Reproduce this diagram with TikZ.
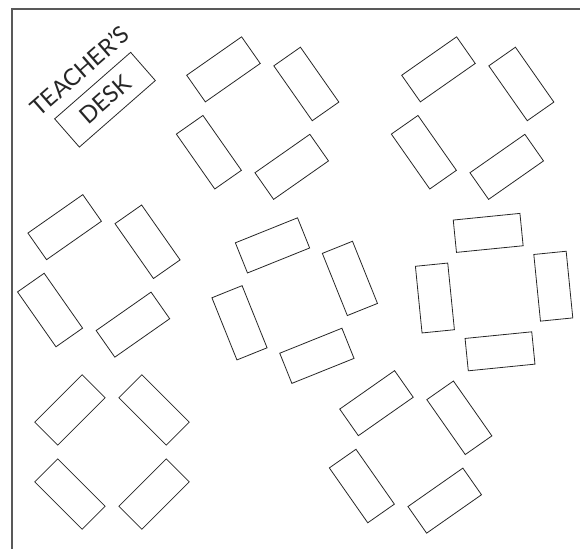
\documentclass[tikz,border=0pt]{standalone}
\usepackage{fontspec}
\setmainfont{Lato}
\usepackage{tikz}

\tikzset{
    desk/.style={draw=black!85, line width=0.8bp, minimum width=67bp,
        minimum height=32.5bp, inner sep=0pt},
    bigdesk/.style={draw=black!85, line width=0.8bp, minimum width=101bp,
        minimum height=37.5bp, inner sep=0pt},
    label/.style={font=\fontsize{23.5}{25}\selectfont, text=black!85, inner sep=0pt}
}

\begin{document}
\begin{tikzpicture}[x=1bp, y=1bp]
    \useasboundingbox (0, 0) rectangle (580, -549);
    \draw [line width=1.3bp, color=black!65] (580, -9) -| (12, -549);

    \node [bigdesk, rotate=41.2] (tdesk) at (105, -99.7) {};
    \node [label, rotate=41.2] (dtext) at (tdesk.center) {DESK};
    \path (tdesk.center) ++(131.2:38.5) node [label, rotate=41.2] (teacher) {TEACHER’S};

    % groups of four desks: centre x / centre y / angle
    \foreach \cx/\cy/\ang [count=\g] in {257.6/118.1/35, 472.6/118.1/35,
            98.8/275.9/35, 294.7/300.6/21.9, 494.1/292.1/5.7,
            112/452/45, 410.6/451.9/35} {
        \begin{scope}[shift={(\cx, -\cy)}, rotate=\ang, transform shape]
            \node [desk] (g\g-n) at (0, 59.5) {};
            \node [desk] (g\g-s) at (0, -59.5) {};
            \node [desk, rotate=90] (g\g-e) at (59.5, 0) {};
            \node [desk, rotate=90] (g\g-w) at (-59.5, 0) {};
        \end{scope}
    }

\end{tikzpicture}
\end{document}
